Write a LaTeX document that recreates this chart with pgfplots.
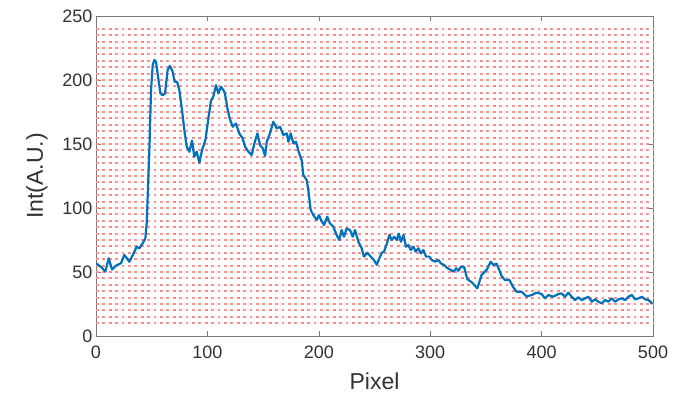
\documentclass[border=0pt]{standalone}
\usepackage{fontspec}
\setmainfont{Liberation Sans}
\usepackage{pgfplots}
\pgfplotsset{compat=1.18}
\definecolor{mblue}{RGB}{0,114,189}
\definecolor{axgray}{RGB}{120,120,120}
\definecolor{txtgray}{RGB}{50,50,50}
\definecolor{gridred}{RGB}{255,140,140}
\begin{document}
\begin{tikzpicture}
\useasboundingbox (-96pt,-64pt) rectangle (583pt,336pt);
\begin{axis}[
  at={(0,0)}, anchor=south west,
  scale only axis, width=557pt, height=320pt,
  xmin=0, xmax=500, ymin=0, ymax=250,
  xtick={0,100,...,500}, ytick={0,50,...,250},
  tick align=inside, major tick length=5pt,
  axis line style={axgray, line width=0.6pt},
  tick style={axgray, line width=0.6pt},
  tick label style={font=\fontsize{18}{20}\selectfont, text=txtgray},
  label style={font=\fontsize{23}{25}\selectfont, text=txtgray},
  xticklabel style={yshift=-6pt},
  /pgf/number format/assume math mode=true,
  xlabel={Pixel}, ylabel={Int(A.U.)},
  xlabel style={yshift=-8pt},
  ylabel style={yshift=8pt},
  major grid style={gridred, line width=2pt, dash pattern=on 2.8pt off 3.6pt},
  extra y ticks={10,15,...,240},
  extra y tick labels={},
  extra y tick style={grid=major, major tick length=0pt},
]
\addplot[mblue, line width=2.2pt, line join=round] coordinates {
(0,56.8) (4.5,54) (8.4,50.3) (11.4,60.7) (14.4,52) (18,55) (22.4,56.8) (25.4,63.3) (30,58) (33,63.3)
(36.5,69.8) (38.9,68.5) (41.9,72.4) (44.3,76.3) (45.5,88) (46.4,109) (47.9,145) (49.4,192) (50.9,211.7) (52.4,215.6)
(53.9,214.3) (55.7,202.6) (57.8,189.6) (59.8,188) (62,189.6) (64.3,208) (66.4,211) (68.8,206.6) (70.6,198.7) (72.7,198.7)
(74.8,192.2) (77.2,176.6) (79.3,161) (81.4,148) (83.8,144) (86.2,152.6) (88.3,140) (90.4,144) (92.8,135.4) (95.2,145.3)
(98.2,153) (101.1,171.3) (103.3,184) (105.3,187) (107.7,196) (109.8,189.6) (112.2,194.8) (115.2,190.9) (116.7,185) (117.7,179)
(120,170) (122.7,163.5) (125.6,166) (128.6,158.3) (131.6,154.4) (133.8,148) (136.8,144) (139.8,141.4) (142.2,150.5) (144.9,158.3)
(147.3,149.2) (149.7,146.6) (151.8,140.6) (153.3,151.8) (156.2,158.3) (159.2,167.4) (162.2,162.2) (165.2,163.5) (168.2,157) (171.2,158.3)
(172.7,151.8) (174.8,158.3) (177.2,150.5) (179.6,151.8) (181.9,144) (184.6,137.5) (186.1,125.8) (189.1,121.9) (190.6,114) (192.7,98.4)
(195.1,94.5) (198.1,90.6) (200.2,94.5) (202,90.6) (204.7,86.7) (207.6,93.2) (210,88) (213,85.4) (216,78.9) (218.4,75)
(220.5,82.8) (222.6,77.6) (225,84) (228,82.8) (230.4,77.6) (232.5,82.8) (235.5,73.7) (238.5,68.5) (240.6,62) (243.6,65.1)
(246.6,62) (249,60) (252,55.6) (254.4,60.8) (256.5,65) (258.6,66) (261,72) (263.4,79) (265.5,75) (267.6,77.6)
(270,75) (271.8,80) (273.8,73.7) (276,79) (278.3,69.8) (280.4,71) (282.5,67.2) (284.9,69.8) (287,65.9) (289.4,68.5)
(291.5,64.6) (293.9,67.2) (296.3,62) (299.3,62) (301.4,59.4) (304.4,58.1) (307.4,59.4) (309.5,56.8) (312.5,55.5) (314.9,53.4)
(318.5,51.6) (320.9,50.3) (323.3,52.9) (325.4,51) (327.5,54.2) (330.4,54) (333.3,44.5) (337.3,42) (342.3,37.2) (346.1,47.7)
(350.6,51.6) (354.3,58) (356.7,55.5) (359.6,56.5) (364.2,46.8) (367.1,43.7) (371,44) (374.6,38) (377.7,34.6) (382.1,34.6)
(386.6,30.9) (391.1,32) (395.6,33.9) (400,32.8) (403,29.4) (406,32) (410.5,30.7) (415,32.8) (418,33.3) (421,30.7)
(424,33.9) (427,30.7) (430,28.1) (433,30.2) (436,28.1) (439,29.4) (442,30.7) (445,26.8) (448,28.6) (451,26.8)
(454,25.5) (457,28.1) (460,26.8) (463,29.4) (466,26.8) (469,28.6) (472,29.4) (475,28.1) (478,30.7) (481,32)
(484,28.6) (487,29.4) (490,30.7) (493,28.6) (496,28.1) (499.5,25)
};
\end{axis}
\end{tikzpicture}
\end{document}
